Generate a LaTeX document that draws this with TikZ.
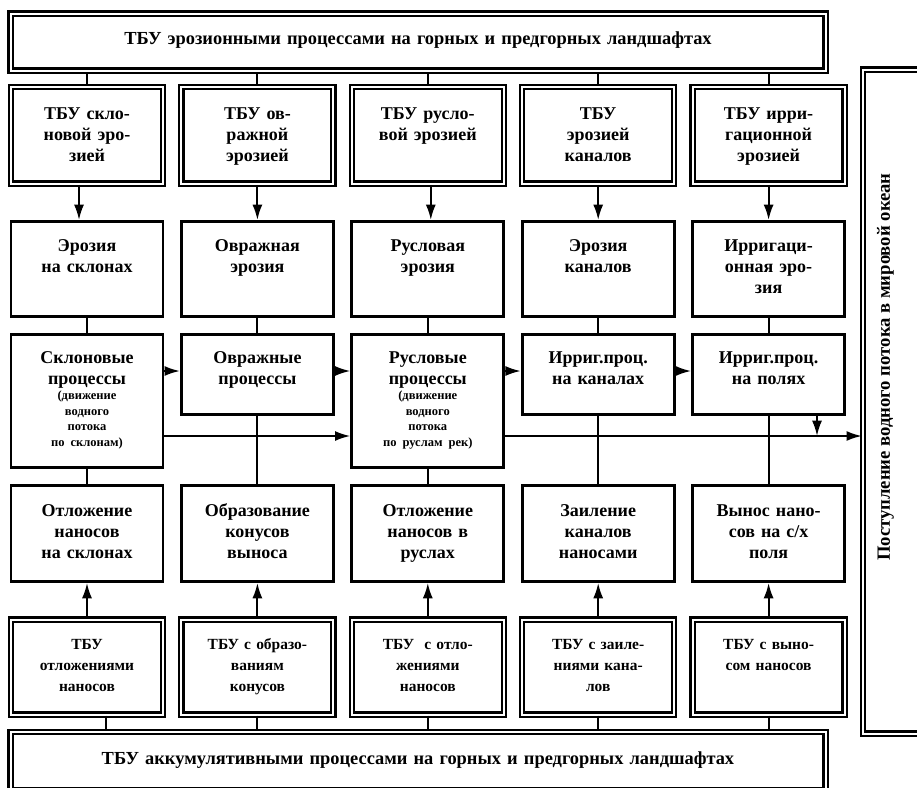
\documentclass[tikz,border=0pt]{standalone}
\usepackage{fontspec}
\setmainfont{Liberation Serif}
\usetikzlibrary{arrows.meta}

\tikzstyle{block}=[draw,line width=2.2pt,rectangle,inner sep=0pt,anchor=north,text width=114pt,align=center,font=\bfseries\fontsize{13.5}{15.75}\selectfont]
\tikzstyle{tbu}=[block,line width=1.7pt,double,double distance=1.5pt]
\tikzstyle{link}=[line width=1.5pt]
\tikzstyle{flow}=[link,->]
\newcommand{\smalltxt}[1]{\par{\fontsize{9.4}{11.6}\selectfont #1\par}}

\begin{document}
\begin{tikzpicture}[x=0.75pt,y=-0.75pt,>={Latex[length=11.5pt,width=7.5pt]}]
\useasboundingbox (0,0) rectangle (917,788);

% frames
\node (TOP)[tbu,text width=611.25pt,text height=23.1pt,text depth=19.65pt,font=\bfseries\fontsize{13.8}{16}\selectfont] at (418,12.5) {ТБУ эрозионными процессами на горных и предгорных ландшафтах};
\node (BOT)[tbu,text width=611.25pt,text height=24pt,text depth=19.5pt,font=\bfseries\fontsize{13.8}{16}\selectfont] at (418,731) {ТБУ аккумулятивными процессами на горных и предгорных ландшафтах};
\node (OCEAN)[tbu,text width=43.5pt,text height=0pt,text depth=498pt] at (892,68.5) {};
\node (OCEANtxt)[rotate=90,font=\bfseries\fontsize{14}{16}\selectfont] at (885.5,367) {Поступление водного потока в мировой океан};

% five columns
\foreach \c/\txt in {1/{ТБУ скло-\\новой эро-\\зией},2/{ТБУ ов-\\ражной\\эрозией},3/{ТБУ русло-\\вой эрозией},4/{ТБУ\\эрозией\\каналов},5/{ТБУ ирри-\\гационной\\эрозией}}
  \node (T\c)[tbu,text height=24pt,text depth=48.4pt] at ({87+170.4*(\c-1)},86) {\txt};

\foreach \c/\txt in {1/{Эрозия\\на склонах},2/{Овражная\\эрозия},3/{Русловая\\эрозия},4/{Эрозия\\каналов},5/{Ирригаци-\\онная эро-\\зия}}
  \node (E\c)[block,text height=22.5pt,text depth=48.75pt] at ({87+170.4*(\c-1)},220) {\txt};

\foreach \c/\d/\txt in {1/78/{Склоновые\\процессы\smalltxt{(движение\\водного\\потока\\по склонам)}},2/38.25/{Овражные\\процессы},3/78/{Русловые\\процессы\smalltxt{(движение\\водного\\потока\\по руслам рек)}},4/38.25/{Ирриг.проц.\\на каналах},5/38.25/{Ирриг.проц.\\на полях}}
  \node (P\c)[block,text height=21.75pt,text depth=\d pt] at ({87+170.4*(\c-1)},333) {\txt};

\foreach \c/\txt in {1/{Отложение\\наносов\\на склонах},2/{Образование\\конусов\\выноса},3/{Отложение\\наносов в\\руслах},4/{Заиление\\каналов\\наносами},5/{Вынос нано-\\сов на с/х\\поля}}
  \node (D\c)[block,text height=23.25pt,text depth=48.75pt] at ({87+170.4*(\c-1)},484) {\txt};

\foreach \c/\txt in {1/{ТБУ\\отложениями\\наносов},2/{ТБУ с образо-\\ваниям\\конусов},3/{ТБУ~ с отло-\\жениями\\наносов},4/{ТБУ с заиле-\\ниями кана-\\лов},5/{ТБУ с выно-\\сом наносов}}
  \node (A\c)[tbu,text height=22.1pt,text depth=49.1pt,font=\bfseries\fontsize{11.6}{15.75}\selectfont] at ({87+170.4*(\c-1)},618.5) {\txt};

% vertical links
\foreach \c/\dx/\ux in {1/-8/19,2/0/0,3/3/0,4/0/0,5/0/0}{
  \draw[link] (T\c.north) -- (T\c.north |- TOP.south);
  \draw[flow] ([xshift=\dx*0.75pt]T\c.south) -- ([xshift=\dx*0.75pt]E\c.north);
  \draw[link] (E\c.south) -- (P\c.north);
  \draw[link] (P\c.south) -- (D\c.north);
  \draw[flow] (A\c.north) -- (D\c.south);
  \draw[link] ([xshift=\ux*0.75pt]A\c.south) -- ([xshift=\ux*0.75pt]A\c.south |- BOT.north);
}

% water flow
\coordinate (side) at (0,371);
\coordinate (main) at (0,436);
\coordinate (drop) at (817,436);
\foreach \a/\b in {1/2,2/3,3/4,4/5}
  \draw[flow] (P\a.east |- side) -- (P\b.west |- side);
\draw[flow] (P1.east |- main) -- (P3.west |- main);
\draw[flow] (P3.east |- main) -- (OCEAN.west |- main);
\draw[flow] (P5.south -| drop) -- (drop);
\end{tikzpicture}
\end{document}
